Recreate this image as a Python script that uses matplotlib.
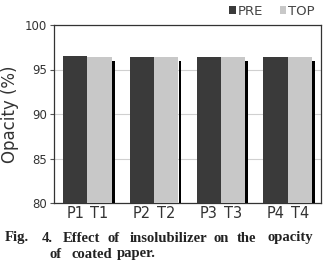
import numpy as np
import matplotlib.pyplot as plt

# opacity values
groups = ['1', '2', '3', '4']
pre = [96.5, 96.4, 96.4, 96.4]
top = [96.4, 96.4, 96.4, 96.4]
edge = [96.0, 96.0, 96.0, 96.0]
tickLabels = ['P1', 'T1', 'P2', 'T2', 'P3', 'T3', 'P4', 'T4']

W, H = 326, 261
fig = plt.figure(figsize=(W/100, H/100), dpi=100)
ax = fig.add_axes([54/W, 1-203/H, 267/W, 178/H])

x = np.arange(len(groups))
w = 0.365
ax.bar(x - w/2, pre, width=w, color='#3a3a3a', label='PRE', zorder=3)
ax.bar(x + w/2, top, width=w, color='#c8c8c8', label='TOP', zorder=3)
ax.bar(x + w + 0.022, edge, width=0.04, color='black', zorder=3)

ax.set_xlim(-0.5, 3.5)
ax.set_ylim(80, 100)
ax.set_yticks([80, 85, 90, 95, 100])
ax.yaxis.grid(True, color='#d0d0d0', linewidth=0.8, zorder=0)
ax.set_xticks(np.concatenate([[xi - w/2, xi + w/2] for xi in x]))
ax.set_xticklabels(tickLabels, fontsize=10.5, color='#333333')
ax.tick_params(axis='x', length=0, pad=2)
ax.tick_params(axis='y', length=3, labelsize=8.5, labelcolor='#333333', color='#555555', pad=2)
for s in ax.spines.values():
    s.set_color('#333333')
    s.set_linewidth(0.9)
ax.set_ylabel('Opacity (%)', fontsize=12, color='#333333', labelpad=4)

leg = ax.legend(loc='lower right', bbox_to_anchor=(1.0, 1.005), ncol=2, frameon=False,
                fontsize=9.5, handlelength=0.5, handleheight=0.5, handletextpad=0.1,
                columnspacing=1.3, borderpad=0.0)
for t in leg.get_texts():
    t.set_color('#444444')

# caption, justified word by word like the printed figure
line1 = [('Fig.', 5), ('4.', 42), ('Effect', 63), ('of', 108), ('insolubilizer', 130),
         ('on', 213), ('the', 237), ('opacity', 267)]
line2 = [('of', 50), ('coated', 71), ('paper.', 117)]
for words, yy in ((line1, 238), (line2, 254)):
    for word, xx in words:
        fig.text(xx/W, 1-yy/H, word, fontsize=10.5, family='Liberation Serif',
                 weight='bold', va='center', ha='left', color='#222222')

plt.savefig('out.png', dpi=100)
